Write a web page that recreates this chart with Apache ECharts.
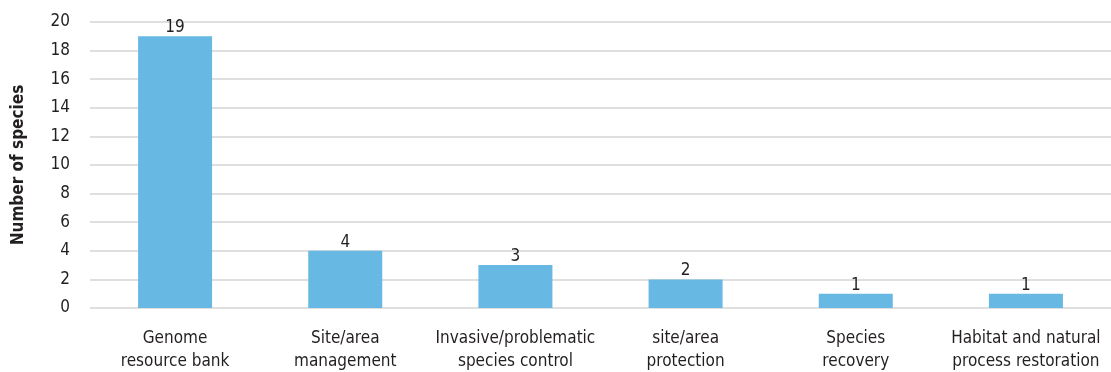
<!DOCTYPE html>
<html>
<head>
<meta charset="utf-8">
<style>
  html, body { margin: 0; padding: 0; background: #ffffff; }
  #chart { width: 1111px; height: 372px; }
</style>
<script src="https://cdn.jsdelivr.net/npm/echarts@6/dist/echarts.min.js"></script>
</head>
<body>
<div id="chart"></div>
<script>
const categories = [
  'Genome\nresource bank',
  'Site/area\nmanagement',
  'Invasive/problematic\nspecies control',
  'site/area\nprotection',
  'Species\nrecovery',
  'Habitat and natural\nprocess restoration'
];
const speciesCounts = [19, 4, 3, 2, 1, 1];
const yTicks = { min: 0, max: 20, interval: 2 };

const fontStack = '"Liberation Sans Narrow", "DejaVu Sans Condensed", "Roboto", sans-serif';
const textColor = '#231f20';

const chart = echarts.init(document.getElementById('chart'), null, { renderer: 'canvas' });
chart.setOption({
  animation: false,
  backgroundColor: '#ffffff',
  grid: { left: 90, right: 0, top: 22, bottom: 64, outerBoundsMode: 'none', containLabel: false },
  xAxis: {
    type: 'category',
    data: categories,
    axisLine: { show: false },
    axisTick: { show: false },
    axisLabel: {
      interval: 0,
      margin: 19,
      color: textColor,
      fontFamily: fontStack,
      fontSize: 17,
      lineHeight: 23
    }
  },
  yAxis: {
    type: 'value',
    min: yTicks.min,
    max: yTicks.max,
    interval: yTicks.interval,
    name: 'Number of species',
    nameLocation: 'middle',
    nameGap: 63,
    nameRotate: 90,
    nameTextStyle: {
      color: textColor,
      fontFamily: fontStack,
      fontSize: 17,
      fontWeight: 'bold'
    },
    axisLine: { show: false },
    axisTick: { show: false },
    axisLabel: {
      margin: 20,
      color: textColor,
      fontFamily: fontStack,
      fontSize: 17
    },
    splitLine: { lineStyle: { color: '#d4d4d4', width: 1.5 } }
  },
  series: [{
    type: 'bar',
    data: speciesCounts,
    barWidth: 74,
    itemStyle: { color: '#67b8e3' },
    label: {
      show: true,
      position: 'top',
      distance: 0,
      color: textColor,
      fontFamily: fontStack,
      fontSize: 17
    }
  }]
});
</script>
</body>
</html>
